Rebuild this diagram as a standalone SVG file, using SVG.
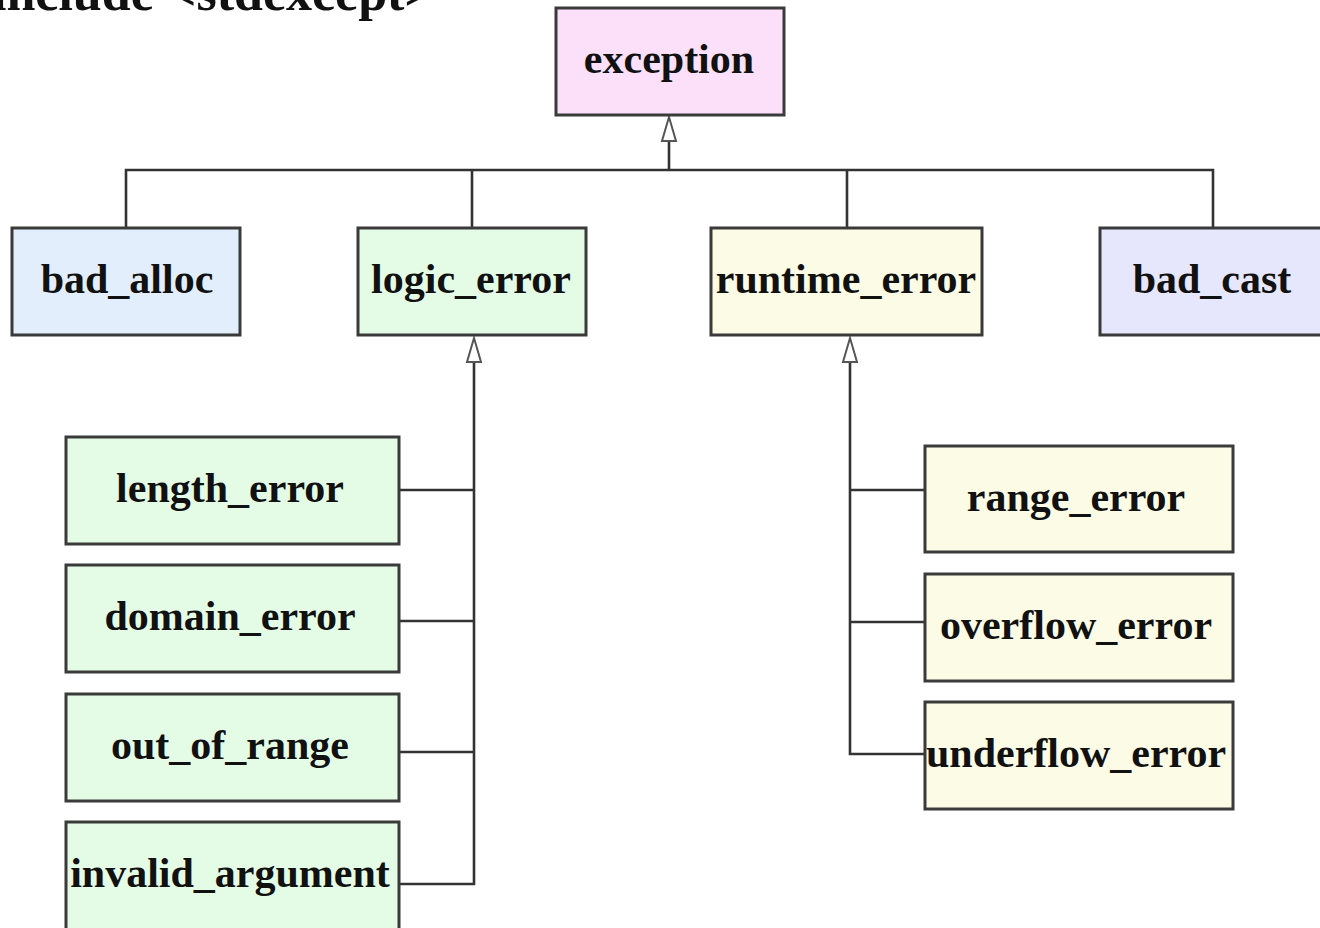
<svg xmlns="http://www.w3.org/2000/svg" width="1320" height="928" viewBox="0 0 1320 928">
<defs>
<style>
.box{stroke:#3a3a3a;stroke-width:3}
.lbl{font-family:"Liberation Serif","Times New Roman",serif;font-weight:bold;font-size:42px;fill:#111;text-anchor:middle}
.ln{fill:none;stroke:#333;stroke-width:2.6}
.arr{fill:#fff;stroke:#555;stroke-width:2}
</style>
</defs>
<rect width="1320" height="928" fill="#fff"/>
<text x="434" y="10" style="font-family:'Liberation Serif','Times New Roman',serif;font-weight:bold;font-size:52px;fill:#111;text-anchor:end">#include &lt;stdexcept&gt;</text>

<g id="connectors">
<path class="ln" d="M669 140 V170 M126 228 V170 H1213 V228 M472 170 V228 M847 170 V228"/>
<path class="arr" d="M669 117 L662 141 L676 141 Z"/>
<path class="ln" d="M474 362 V884 H399 M399 490 H474 M399 621 H474 M399 752 H474"/>
<path class="arr" d="M474 338 L467 362 L481 362 Z"/>
<path class="ln" d="M850 362 V754 H925 M850 490 H925 M850 622 H925"/>
<path class="arr" d="M850 338 L843 362 L857 362 Z"/>
</g>

<g id="exception"><rect class="box" x="556" y="8" width="228" height="107" fill="#fce0fa"/><text class="lbl" x="669" y="73">exception</text></g>
<g id="bad_alloc"><rect class="box" x="12" y="228" width="228" height="107" fill="#e2eefc"/><text class="lbl" x="127" y="293">bad_alloc</text></g>
<g id="logic_error"><rect class="box" x="358" y="228" width="228" height="107" fill="#e4fce6"/><text class="lbl" x="471" y="293">logic_error</text></g>
<g id="runtime_error"><rect class="box" x="711" y="228" width="271" height="107" fill="#fcfce6"/><text class="lbl" x="846" y="293">runtime_error</text></g>
<g id="bad_cast"><rect class="box" x="1100" y="228" width="230" height="107" fill="#e6e6fc"/><text class="lbl" x="1212" y="293">bad_cast</text></g>

<g id="length_error"><rect class="box" x="66" y="437" width="333" height="107" fill="#e4fce6"/><text class="lbl" x="230" y="502">length_error</text></g>
<g id="domain_error"><rect class="box" x="66" y="565" width="333" height="107" fill="#e4fce6"/><text class="lbl" x="230" y="630">domain_error</text></g>
<g id="out_of_range"><rect class="box" x="66" y="694" width="333" height="107" fill="#e4fce6"/><text class="lbl" x="230" y="759">out_of_range</text></g>
<g id="invalid_argument"><rect class="box" x="66" y="822" width="333" height="110" fill="#e4fce6"/><text class="lbl" x="230" y="887">invalid_argument</text></g>

<g id="range_error"><rect class="box" x="925" y="446" width="308" height="106" fill="#fcfce6"/><text class="lbl" x="1076" y="511">range_error</text></g>
<g id="overflow_error"><rect class="box" x="925" y="574" width="308" height="107" fill="#fcfce6"/><text class="lbl" x="1076" y="639">overflow_error</text></g>
<g id="underflow_error"><rect class="box" x="925" y="702" width="308" height="107" fill="#fcfce6"/><text class="lbl" x="1076" y="767">underflow_error</text></g>
</svg>
